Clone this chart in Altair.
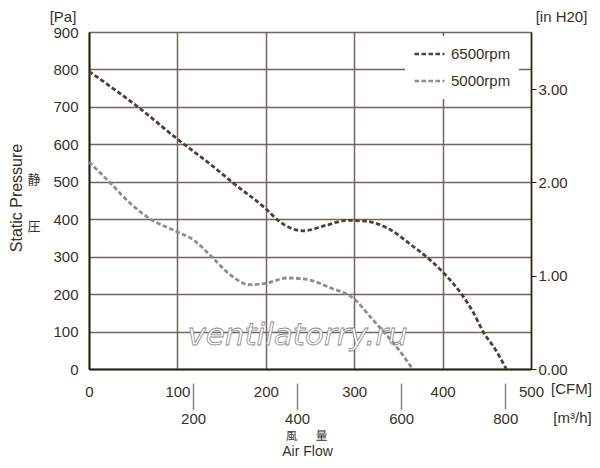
import altair as alt
import pandas as pd

# ---- data ----
cfm_6500 = [0, 58, 101, 135, 163, 199, 216, 242, 270, 292, 315, 341, 364, 386, 401, 422, 435, 446, 460, 472]
pa_6500 = [795, 695, 612, 551, 497, 430, 393, 369, 385, 397, 394, 372, 332, 291, 257, 198, 150, 99, 51, 0]

cfm_5000 = [0, 24, 46, 69, 100, 118, 140, 160, 182, 202, 224, 242, 273, 301, 318, 333, 349, 366]
pa_5000 = [553, 497, 444, 401, 366, 345, 297, 251, 225, 230, 243, 241, 217, 185, 140, 100, 56, 0]

series_names = ["6500rpm", "5000rpm"]
series_colors = ["#4a4239", "#8e8e8e"]

cfm_ticks = [0, 100, 200, 300, 400, 500]
pa_ticks = [0, 100, 200, 300, 400, 500, 600, 700, 800, 900]
inh2o_ticks = [0, 1, 2, 3]
m3h_ticks = [200, 400, 600, 800]

PA_PER_INH2O = 249.0889
M3H_PER_CFM = 1.699011

df = pd.concat([
    pd.DataFrame({"cfm": cfm_6500, "pa": pa_6500, "series": series_names[0]}),
    pd.DataFrame({"cfm": cfm_5000, "pa": pa_5000, "series": series_names[1]}),
], ignore_index=True)

TXT = "#3a2f25"
GRID = "#6f665d"
FONT = "Liberation Sans"
CJK = "Noto Sans CJK JP"
W, H = 442, 337

x_cfm = alt.Scale(domain=[0, 500], nice=False, zero=False)
y_pa = alt.Scale(domain=[0, 900], nice=False, zero=False)

base = alt.Chart(df)

curves = base.mark_line(strokeDash=[4.5, 2.5], strokeWidth=2.8, interpolate="monotone").encode(
    x=alt.X("cfm:Q", scale=x_cfm,
            axis=alt.Axis(values=cfm_ticks, grid=True, gridColor=GRID, gridWidth=1.5, gridOpacity=1,
                          ticks=False, tickSize=0, labelPadding=15, labelFontSize=15, labelFont=FONT,
                          labelColor=TXT, labelFlush=False, domainColor="#2a2016", domainWidth=2,
                          title="[CFM]", titleFont=FONT, titleFontSize=15, titleFontWeight="normal",
                          titleColor=TXT, titleX=482, titleY=19, titleAlign="center",
                          titleBaseline="middle", titleAngle=0)),
    y=alt.Y("pa:Q", scale=y_pa,
            axis=alt.Axis(values=pa_ticks, grid=True, gridColor=GRID, gridWidth=1.5, gridOpacity=1,
                          ticks=False, tickSize=0, labelPadding=11, labelFontSize=15, labelFont=FONT,
                          labelColor=TXT, labelFlush=False, domainColor="#2a2016", domainWidth=2,
                          title="[Pa]", titleFont=FONT, titleFontSize=15, titleFontWeight="normal",
                          titleColor=TXT, titleX=-26.5, titleY=-15.5, titleAlign="center",
                          titleBaseline="middle", titleAngle=0)),
    color=alt.Color("series:N",
                    scale=alt.Scale(domain=series_names, range=series_colors),
                    legend=alt.Legend(title=None, orient="none", legendX=316, legendY=4,
                                      fillColor="white", padding=8, symbolType="stroke",
                                      symbolSize=900, symbolStrokeWidth=2.5, symbolDash=[4.5, 2.5],
                                      clipHeight=20, rowPadding=7, labelOffset=5,
                                      labelFont=FONT, labelFontSize=15, labelColor=TXT)),
    detail="series:N",
)

right_axis = base.transform_filter(alt.datum.series == series_names[0]).transform_calculate(
    inh2o=alt.datum.pa / PA_PER_INH2O
).mark_line(opacity=0).encode(
    x=alt.X("cfm:Q", scale=x_cfm, axis=None),
    y=alt.Y("inh2o:Q", scale=alt.Scale(domain=[0, 900 / PA_PER_INH2O], nice=False, zero=False),
            axis=alt.Axis(orient="right", values=inh2o_ticks, format=".2f", grid=False,
                          tickSize=5, tickColor="#2a2016", tickWidth=1, labelFlush=False,
                          labelPadding=2, labelFontSize=15, labelFont=FONT, labelColor=TXT,
                          domainColor="#2a2016", domainWidth=1.5,
                          title="[in H20]", titleFont=FONT, titleFontSize=15, titleFontWeight="normal",
                          titleColor=TXT, titleX=30, titleY=-15.5, titleAlign="center",
                          titleBaseline="middle", titleAngle=0)),
)

m3h_axis = base.transform_filter(alt.datum.series == series_names[0]).transform_calculate(
    m3h=alt.datum.cfm * M3H_PER_CFM
).mark_line(opacity=0).encode(
    x=alt.X("m3h:Q", scale=alt.Scale(domain=[0, 500 * M3H_PER_CFM], nice=False, zero=False),
            axis=alt.Axis(orient="bottom", offset=14, values=m3h_ticks, grid=False, domain=False,
                          tickSize=26, tickColor="#8a857f", tickWidth=1.5, labelFlush=False,
                          labelPadding=2, labelFontSize=15, labelFont=FONT, labelColor=TXT,
                          title="[m³/h]", titleFont=FONT, titleFontSize=15, titleFontWeight="normal",
                          titleColor=TXT, titleX=483, titleY=34, titleAlign="center",
                          titleBaseline="middle", titleAngle=0)),
    y=alt.Y("pa:Q", scale=y_pa, axis=None),
)


def label(text, x, y, size, font=FONT, angle=0, **kw):
    return alt.Chart(pd.DataFrame({"t": [text]})).mark_text(
        font=font, fontSize=size, color=TXT, align="center", baseline="middle", angle=angle, **kw
    ).encode(text="t:N", x=alt.value(x), y=alt.value(y))


watermark = alt.Chart(pd.DataFrame({"t": ["ventilatorry.ru"]})).mark_text(
    font="DejaVu Sans", fontStyle="italic", fontSize=31, fill="white", stroke="#8a8a8a",
    strokeWidth=0.8, align="center", baseline="alphabetic"
).encode(text="t:N", x=alt.value(208.5), y=alt.value(313))

annotations = [
    label("Static Pressure", -72, 166, 16, angle=270),
    label("静", -55, 148, 13, font=CJK),
    label("圧", -55, 195, 13, font=CJK),
    label("風", 202.5, 404.85, 11.5, font=CJK),
    label("量", 232.5, 404.85, 11.5, font=CJK),
    label("Air Flow", 218.5, 420.3, 14),
]

chart = alt.layer(
    watermark, curves, right_axis, m3h_axis, *annotations
).resolve_scale(
    x="independent", y="independent"
).properties(
    width=W, height=H,
    autosize=alt.AutoSizeParams(type="none"),
    padding={"left": 81, "top": 24, "right": 61, "bottom": 91},
).configure_view(
    stroke="#2a2016", strokeWidth=1.5
).configure(background="white")

chart.save("out.html", embed_options={"renderer": "svg", "actions": False})
